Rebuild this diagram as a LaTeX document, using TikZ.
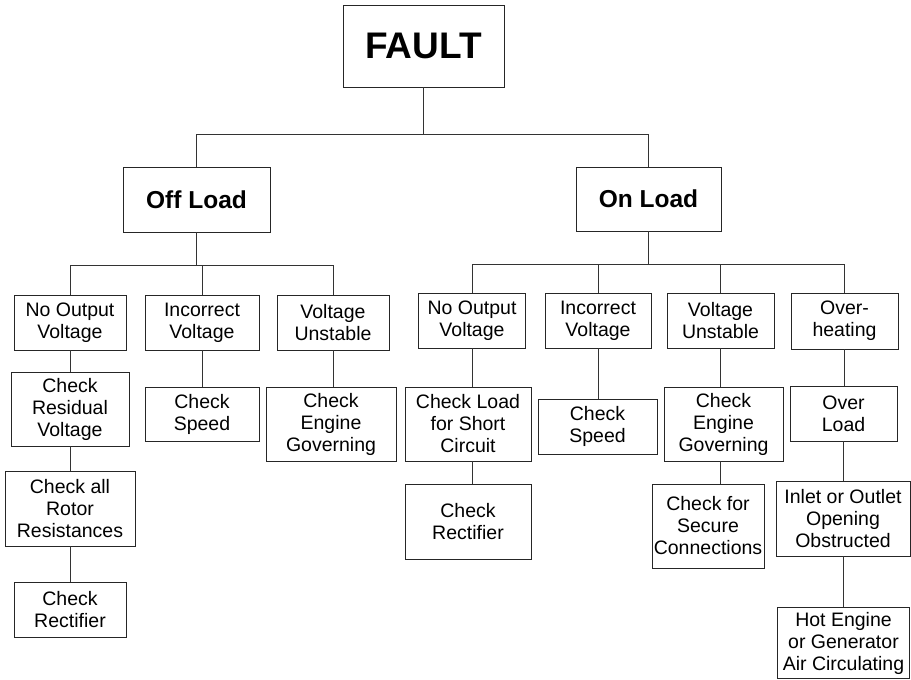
\documentclass[tikz,border=0pt]{standalone}
\usepackage{fontspec}
\setmainfont{Liberation Sans}
\usetikzlibrary{positioning}
\tikzset{
    box/.style = {rectangle, draw=black!85, line width=0.8pt, align=center, inner sep=0pt, font=\fontsize{19.5}{22}\selectfont},
    topbox/.style = {box, font=\fontsize{37}{40}\bfseries\selectfont},
    headbox/.style = {box, font=\fontsize{24.5}{27}\bfseries\selectfont},
    link/.style = {draw=black!80, line width=0.8pt}
}
\begin{document}
\begin{tikzpicture}[x=1pt,y=-1pt]
  \useasboundingbox (0,0) rectangle (911,680);

  \node[topbox, minimum width=161pt, minimum height=82pt] (fault) at (423.5,46) {FAULT};
  \node[headbox, minimum width=147pt, minimum height=65pt] (off) at (196.5,199.5) {Off Load};
  \node[headbox, minimum width=145pt, minimum height=64pt] (on) at (648.5,199) {On Load};

  % off load
  \node[box, minimum width=112pt, minimum height=55pt] (offnov) at (70,322.5) {No Output\\Voltage};
  \node[box, minimum width=114pt, minimum height=55pt] (offinc) at (202,322.5) {Incorrect\\Voltage};
  \node[box, minimum width=112pt, minimum height=55pt] (offuns) at (333,322.5) {Voltage\\Unstable};
  \node[box, minimum width=118pt, minimum height=74pt] (offres) at (70,409) {Check\\Residual\\Voltage};
  \node[box, minimum width=130pt, minimum height=75pt] (offrot) at (70,508.5) {Check all\\Rotor\\Resistances};
  \node[box, minimum width=112pt, minimum height=55pt] (offrec) at (70,609.5) {Check\\Rectifier};
  \node[box, minimum width=114pt, minimum height=54pt] (offspd) at (202,414) {Check\\Speed};
  \node[box, minimum width=130pt, minimum height=74pt] (offgov) at (331,424) {Check\\Engine\\Governing};

  % on load
  \node[box, minimum width=107pt, minimum height=55pt] (onnov) at (472,320.5) {No Output\\Voltage};
  \node[box, minimum width=106pt, minimum height=55pt] (oninc) at (598,320.5) {Incorrect\\Voltage};
  \node[box, minimum width=107pt, minimum height=55pt] (onuns) at (720.5,320.5) {Voltage\\Unstable};
  \node[box, minimum width=107pt, minimum height=56pt] (onhot) at (844.5,321) {Over-\\heating};
  \node[box, minimum width=126pt, minimum height=74pt] (onsho) at (468,424) {Check Load\\for Short\\Circuit};
  \node[box, minimum width=126pt, minimum height=75pt] (onrec) at (468,521.5) {Check\\Rectifier};
  \node[box, minimum width=119pt, minimum height=55pt] (onspd) at (597.5,426.5) {Check\\Speed};
  \node[box, minimum width=119pt, minimum height=74pt] (ongov) at (723.5,424) {Check\\Engine\\Governing};
  \node[box, minimum width=112pt, minimum height=84pt] (onsec) at (708,526) {Check for\\Secure\\Connections};
  \node[box, minimum width=107pt, minimum height=55pt] (onovl) at (843.5,413.5) {Over\\Load};
  \node[box, minimum width=134pt, minimum height=75pt] (oninl) at (843,518.5) {Inlet or Outlet\\Opening\\Obstructed};
  \node[box, minimum width=132pt, minimum height=71pt] (onair) at (843.5,643) {Hot Engine\\or Generator\\Air Circulating};

  \coordinate (bus) at (0,134);
  \coordinate (offbus) at (0,265);
  \coordinate (onbus) at (0,264);

  \draw[link] (fault.south) -- (fault.south |- bus);
  \draw[link] (off.north) |- (on.north |- bus) -- (on.north);

  \draw[link] (off.south) -- (off.south |- offbus);
  \draw[link] (offnov.north) |- (offuns.north |- offbus) -- (offuns.north);
  \draw[link] (offinc.north) -- (offinc.north |- offbus);
  \draw[link] (offnov.south) -- (offres.north);
  \draw[link] (offres.south) -- (offres.south |- offrot.north);
  \draw[link] (offrot.south) -- (offrot.south |- offrec.north);
  \draw[link] (offinc.south) -- (offspd.north);
  \draw[link] (offuns.south) -- (offuns.south |- offgov.north);

  \draw[link] (on.south) -- (on.south |- onbus);
  \draw[link] (onnov.north) |- (onhot.north |- onbus) -- (onhot.north);
  \draw[link] (oninc.north) -- (oninc.north |- onbus);
  \draw[link] (onuns.north) -- (onuns.north |- onbus);
  \draw[link] (onnov.south) -- (onnov.south |- onsho.north);
  \draw[link] (onsho.south -| onnov.south) -- (onnov.south |- onrec.north);
  \draw[link] (oninc.south) -- (oninc.south |- onspd.north);
  \draw[link] (onuns.south) -- (onuns.south |- ongov.north);
  \draw[link] (ongov.south -| onuns.south) -- (onuns.south |- onsec.north);
  \draw[link] (onhot.south) -- (onhot.south |- onovl.north);
  \draw[link] (onovl.south) -- (onovl.south |- oninl.north);
  \draw[link] (oninl.south -| onovl.south) -- (onovl.south |- onair.north);
\end{tikzpicture}
\end{document}
